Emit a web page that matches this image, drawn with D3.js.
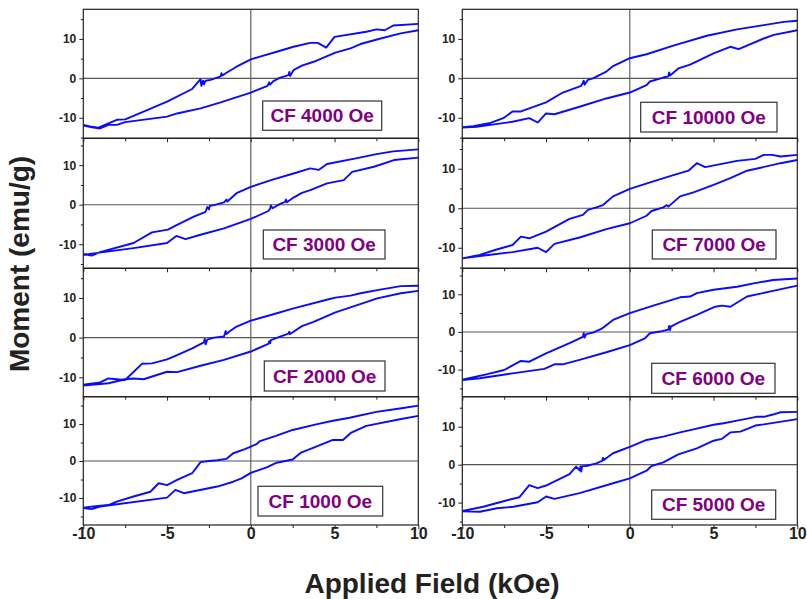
<!DOCTYPE html>
<html>
<head>
<meta charset="UTF-8">
<title>CF hysteresis loops</title>
<script src="https://d3js.org/d3.v7.min.js"></script>
<style>
  body { margin: 0; background: #fff; }
  text { font-family: "Liberation Sans", Arial, sans-serif; font-weight: bold; }
</style>
</head>
<body>
<div id="chart"></div>
<script>
// ---- data: [field (kOe), moment (emu/g)] ----
// upper branch runs +10 -> -10, lower branch -10 -> +10

const cf4000Up = [[10,13.8],[8.5,13.4],[8.0,12.2],[7.5,12.4],[6.9,11.8],[5.0,10.5],[4.5,7.8],[4.0,9.0],[3.55,9.0],[2.55,8.0],[1.75,7.0],[0.55,5.5],[0,4.8],[-0.85,2.95],[-1.5,1.3],[-1.7,0.7],[-1.75,1.3],[-1.8,0.5],[-2.4,-0.4],[-2.7,-0.6],[-2.8,-1.5],[-2.85,-0.6],[-2.95,-1.9],[-3.0,-0.2],[-3.5,-2.7],[-5.0,-5.9],[-7.0,-9.5],[-7.5,-10.4],[-8.0,-10.5],[-8.6,-11.6],[-9.1,-12.5],[-9.6,-12.2],[-10,-11.8]];
const cf4000Down = [[-10,-12.0],[-9.4,-12.5],[-9.0,-12.7],[-8.5,-11.8],[-8.0,-11.8],[-7.5,-11.1],[-5.0,-9.7],[-4.4,-8.9],[-3.0,-7.6],[-1.8,-6.1],[0,-3.6],[1.0,-1.9],[1.1,-1.0],[1.15,-1.6],[1.35,-0.7],[1.75,0.2],[2.25,0.8],[2.3,1.6],[2.35,0.6],[2.55,2.1],[3.05,3.2],[3.75,4.2],[5.05,6.5],[5.95,7.6],[6.55,8.7],[7.75,10.1],[8.95,11.4],[10,12.2]];

const cf3000Up = [[10,14.0],[8.5,13.5],[7.5,12.8],[6.35,11.8],[4.55,10.3],[4.05,8.8],[3.55,9.2],[2.55,7.9],[1.35,6.4],[0,4.5],[-0.85,2.9],[-1.4,0.8],[-1.45,1.3],[-1.6,0.6],[-2.2,-0.1],[-2.45,-0.3],[-2.5,-1.2],[-2.6,-0.6],[-2.7,-1.8],[-3.4,-3.0],[-4.4,-5.1],[-4.95,-6.3],[-5.9,-7.0],[-7.0,-9.7],[-9.0,-12.0],[-9.5,-12.9],[-10,-12.5]];
const cf3000Down = [[-10,-12.7],[-9.5,-12.4],[-7.0,-11.0],[-5.0,-9.7],[-4.45,-7.9],[-3.9,-8.7],[-3.0,-7.6],[-1.6,-6.0],[0,-3.6],[1.05,-1.6],[1.15,-1.0],[1.2,-0.2],[1.3,-0.9],[1.75,0.2],[2.05,0.7],[2.1,1.3],[2.15,0.6],[2.55,1.8],[3.05,3.0],[3.55,3.7],[4.55,5.4],[5.55,6.2],[6.05,8.3],[7.35,9.6],[8.55,11.3],[10,11.9]];

const cf2000Up = [[10,13.1],[8.95,13.0],[7.55,12.0],[6.55,11.2],[5.95,10.6],[5.05,10.1],[4.65,9.7],[2.55,7.4],[1.35,5.9],[0,4.3],[-0.85,2.8],[-1.3,1.5],[-1.45,0.9],[-1.5,1.7],[-1.6,0.3],[-2.2,0],[-2.6,-0.5],[-2.7,-1.7],[-2.75,-0.3],[-2.8,-1.2],[-3.5,-2.7],[-4.4,-4.4],[-5.0,-5.5],[-5.9,-6.5],[-6.5,-6.6],[-7.5,-10.7],[-8.0,-10.5],[-8.5,-10.3],[-9.0,-11.3],[-10,-11.9]];
const cf2000Down = [[-10,-12.1],[-8.5,-11.5],[-7.5,-10.5],[-7.0,-10.3],[-6.4,-10.5],[-5.0,-8.6],[-4.4,-8.7],[-3.0,-7.1],[-1.6,-5.6],[0,-3.5],[1.05,-1.6],[1.1,-0.9],[1.15,-1.4],[1.2,-0.6],[1.75,0.25],[2.25,1.0],[2.3,1.5],[2.35,0.9],[3.05,2.9],[3.75,4.0],[5.05,6.4],[6.35,8.2],[7.55,9.9],[8.95,11.2],[10,11.8]];

const cf1000Up = [[10,15.0],[8.9,14.2],[7.5,13.3],[5.9,11.7],[4.9,10.9],[3.9,9.9],[2.5,8.4],[1.5,6.8],[0.55,5.4],[0.35,4.6],[0,3.9],[-0.35,3.2],[-1.05,2.1],[-1.45,0.6],[-2.0,0.2],[-2.5,0],[-3.0,-0.3],[-3.5,-3.3],[-4.4,-5.1],[-5.0,-6.5],[-5.5,-6.0],[-6.0,-8.3],[-7.0,-9.6],[-8.0,-11.0],[-8.5,-11.9],[-9.4,-12.3],[-10,-12.6]];
const cf1000Down = [[-10,-12.7],[-9.5,-13.0],[-9.0,-12.3],[-5.0,-9.9],[-4.5,-7.8],[-4.0,-8.7],[-2.0,-6.9],[-1.05,-5.6],[-0.55,-4.7],[0,-3.2],[0.95,-1.7],[1.55,-0.45],[2.5,0.4],[3.0,2.3],[3.9,3.9],[4.9,5.7],[5.5,5.7],[6.0,7.7],[6.9,9.5],[8.9,11.3],[10,12.2]];

const cf10000Up = [[10,14.6],[9.2,14.3],[8.0,13.5],[6.4,12.4],[4.6,10.8],[2.6,8.3],[1.0,6.1],[0,5.1],[-1.0,3.1],[-1.4,1.7],[-2.2,0],[-2.5,-0.4],[-2.7,-1.6],[-2.75,-0.6],[-2.9,-1.9],[-4.0,-3.6],[-5.0,-6.1],[-6.5,-8.4],[-7.0,-8.4],[-7.55,-10.1],[-8.4,-11.4],[-9.35,-12.1],[-10,-12.4]];
const cf10000Down = [[-10,-12.5],[-9.15,-12.3],[-7.0,-11.0],[-6.0,-10.1],[-5.5,-11.2],[-5.0,-8.9],[-4.5,-9.1],[-3.0,-7.2],[-1.4,-5.1],[0,-3.6],[1.0,-1.7],[1.2,-0.8],[2.0,0.2],[2.3,0.5],[2.35,1.5],[2.4,0.7],[2.9,2.5],[3.6,3.5],[5.0,6.3],[6.0,8.0],[6.5,7.4],[8.0,10.1],[8.6,11.0],[10,12.2]];

const cf7000Up = [[10,13.5],[9.0,13.1],[8.5,13.5],[8.0,13.5],[7.5,12.5],[6.4,12.0],[4.5,10.4],[4.0,11.4],[3.5,9.5],[2.6,8.4],[1.4,6.8],[0,4.9],[-1.0,3.0],[-1.6,0.8],[-2.0,0.2],[-2.5,-0.4],[-2.8,-1.7],[-3.6,-2.7],[-5.0,-5.9],[-6.0,-7.6],[-6.5,-7.2],[-7.0,-9.3],[-8.0,-10.5],[-8.95,-11.8],[-10,-12.7]];
const cf7000Down = [[-10,-12.7],[-8.95,-12.1],[-7.0,-11.1],[-5.5,-10.0],[-5.0,-11.1],[-4.5,-9.0],[-3.0,-7.4],[-1.4,-5.3],[0,-3.8],[1.0,-1.9],[1.3,-0.7],[2.0,0.2],[2.2,0.8],[2.3,0.4],[3.0,3.0],[3.8,4.0],[5.0,5.9],[6.0,7.6],[7.0,9.5],[9.0,11.4],[10,12.2]];

const cf6000Up = [[10,14.2],[8.55,13.8],[7.4,12.9],[6.4,12.0],[5.0,11.2],[4.0,10.3],[3.6,9.4],[3.0,9.2],[1.4,7.0],[0,5.0],[-1.0,3.2],[-1.7,0.8],[-2.2,-0.2],[-2.6,-0.6],[-2.7,-1.5],[-2.75,-0.3],[-2.8,-1.3],[-3.6,-3.0],[-5.0,-5.7],[-6.0,-7.9],[-6.5,-7.7],[-7.5,-10.1],[-8.5,-11.2],[-10,-12.7]];
const cf6000Down = [[-10,-12.8],[-8.95,-12.3],[-7.0,-11.0],[-5.1,-9.8],[-4.5,-8.6],[-4.0,-8.6],[-3.0,-7.4],[-1.4,-5.4],[0,-3.5],[0.9,-1.7],[1.2,-0.35],[1.8,0.1],[2.3,0.6],[2.35,1.6],[2.4,0.5],[2.45,1.4],[3.0,2.7],[4.0,4.5],[5.1,6.7],[5.5,7.0],[6.0,6.7],[7.0,9.4],[8.55,10.9],[10,12.3]];

const cf5000Up = [[10,13.9],[9.0,13.8],[8.55,13.2],[8.0,12.6],[7.55,12.6],[6.4,11.6],[5.6,10.9],[5.0,10.5],[3.6,9.1],[3.0,8.5],[2.0,7.4],[1.0,6.5],[0,4.7],[-1.0,3.0],[-1.55,1.2],[-1.6,1.8],[-1.65,1.0],[-2.0,0.35],[-2.6,-0.35],[-2.85,-0.4],[-2.9,-1.8],[-2.95,-0.5],[-3.0,-1.5],[-3.2,-0.5],[-3.6,-2.5],[-5.0,-5.5],[-5.5,-6.2],[-6.0,-5.4],[-6.6,-8.6],[-7.6,-9.7],[-8.75,-11.1],[-10,-12.2]];
const cf5000Down = [[-10,-12.3],[-8.95,-12.4],[-7.95,-11.5],[-6.95,-11.1],[-5.5,-9.9],[-5.0,-8.4],[-4.5,-9.0],[-3.0,-7.5],[-1.0,-4.9],[0,-3.6],[1.0,-1.6],[1.3,-0.35],[2.0,0.6],[2.9,2.7],[4.0,4.3],[5.0,6.3],[5.5,6.8],[6.0,8.5],[6.6,8.7],[7.5,10.3],[8.0,10.6],[10,12.0]];

const panelLabels = ["CF 4000 Oe", "CF 3000 Oe", "CF 2000 Oe", "CF 1000 Oe",
                     "CF 10000 Oe", "CF 7000 Oe", "CF 6000 Oe", "CF 5000 Oe"];
const upBranches = [cf4000Up, cf3000Up, cf2000Up, cf1000Up, cf10000Up, cf7000Up, cf6000Up, cf5000Up];
const downBranches = [cf4000Down, cf3000Down, cf2000Down, cf1000Down, cf10000Down, cf7000Down, cf6000Down, cf5000Down];

const xTicks = [-10, -5, 0, 5, 10];
const xMinor = [-7.5, -2.5, 2.5, 7.5];
const yTicks = [-10, 0, 10];
const yMinor = [-15, -5, 5, 15];

// ---- layout ----
const W = 807, H = 599;
const colX = [[83.3, 418.3], [462.3, 797.3]];
const rowY = [9.3, 138.3, 268.3, 396.7, 525];
// each panel in the original has its own slightly different y range
const yRanges = [[-15.2, 17.5], [-16.1, 16.8], [-14.9, 17.5], [-17.3, 17.4],
                 [-15.2, 17.5], [-15.2, 17.7], [-17.2, 16.9], [-15.9, 17.9]];
// label boxes: x0, y0, x1, y1
const boxes = [[262.7, 101, 381.7, 130.3], [263.3, 230, 385, 259], [264.3, 361, 385, 391], [258, 486.3, 382.7, 516],
               [640.7, 102.3, 777, 132], [652.3, 230, 776, 259], [651.7, 363.3, 775, 393.3], [651.7, 490, 775.7, 519.3]];

const svg = d3.select("#chart").append("svg")
  .attr("width", W).attr("height", H);

panelLabels.forEach((label, i) => {
  const col = Math.floor(i / 4), row = i % 4;
  const x0 = colX[col][0], x1 = colX[col][1];
  const y0 = rowY[row], y1 = rowY[row + 1];

  const x = d3.scaleLinear().domain([-10, 10]).range([x0, x1]);
  const y = d3.scaleLinear().domain(yRanges[i]).range([y1, y0]);

  const g = svg.append("g");

  g.append("clipPath").attr("id", "clip" + i)
    .append("rect").attr("x", x0).attr("y", y0).attr("width", x1 - x0).attr("height", y1 - y0);

  // zero lines
  g.append("line").attr("x1", x0).attr("x2", x1).attr("y1", y(0)).attr("y2", y(0))
    .attr("stroke", "#555").attr("stroke-width", 1.1);
  g.append("line").attr("x1", x(0)).attr("x2", x(0)).attr("y1", y0).attr("y2", y1)
    .attr("stroke", "#555").attr("stroke-width", 1.1);

  // loop
  const line = d3.line().x(d => x(d[0])).y(d => y(d[1]));
  g.append("path")
    .datum(upBranches[i].concat(downBranches[i]))
    .attr("clip-path", "url(#clip" + i + ")")
    .attr("fill", "none")
    .attr("stroke", "#0a0aff")
    .attr("stroke-width", 1.9)
    .attr("stroke-linejoin", "round")
    .attr("d", line);

  // label box
  const b = boxes[i];
  g.append("rect").attr("x", b[0]).attr("y", b[1]).attr("width", b[2] - b[0]).attr("height", b[3] - b[1])
    .attr("fill", "#fff").attr("stroke", "#333").attr("stroke-width", 1.2);
  g.append("text").attr("x", (b[0] + b[2]) / 2).attr("y", b[3] - 8)
    .attr("text-anchor", "middle").attr("font-size", 19).attr("fill", "#800080")
    .text(label);

  // axes
  const yAxis = g.append("g").attr("transform", `translate(${x0},0)`)
    .call(d3.axisLeft(y).tickValues(yTicks).tickSize(4).tickPadding(3).tickFormat(d => String(d)));
  yAxis.select(".domain").remove();
  yAxis.selectAll("text").attr("font-size", 12).attr("fill", "#222");
  yAxis.selectAll("line").attr("stroke", "#222");

  const yAxisMinor = g.append("g").attr("transform", `translate(${x0},0)`)
    .call(d3.axisLeft(y).tickValues(yMinor.filter(v => v > yRanges[i][0] && v < yRanges[i][1])).tickSize(2.5).tickFormat(""));
  yAxisMinor.select(".domain").remove();
  yAxisMinor.selectAll("line").attr("stroke", "#222");

  const xAxis = g.append("g").attr("transform", `translate(0,${y1})`)
    .call(d3.axisBottom(x).tickValues(xTicks).tickSize(4).tickPadding(-1)
      .tickFormat(row === 3 ? (d => String(d)) : ""));
  xAxis.select(".domain").remove();
  xAxis.selectAll("text").attr("font-size", 16).attr("fill", "#222");
  xAxis.selectAll("line").attr("stroke", "#222");

  const xAxisMinor = g.append("g").attr("transform", `translate(0,${y1})`)
    .call(d3.axisBottom(x).tickValues(xMinor).tickSize(3).tickFormat(""));
  xAxisMinor.select(".domain").remove();
  xAxisMinor.selectAll("line").attr("stroke", "#222");

  // frame
  g.append("rect").attr("x", x0).attr("y", y0).attr("width", x1 - x0).attr("height", y1 - y0)
    .attr("fill", "none").attr("stroke", "#222").attr("stroke-width", 1.2);
});

// axis titles
svg.append("text")
  .attr("transform", "translate(29,264) rotate(-90)")
  .attr("text-anchor", "middle").attr("font-size", 28).attr("fill", "#222")
  .text("Moment (emu/g)");

svg.append("text")
  .attr("x", 432).attr("y", 593)
  .attr("text-anchor", "middle").attr("font-size", 28).attr("fill", "#222")
  .text("Applied Field (kOe)");
</script>
</body>
</html>
